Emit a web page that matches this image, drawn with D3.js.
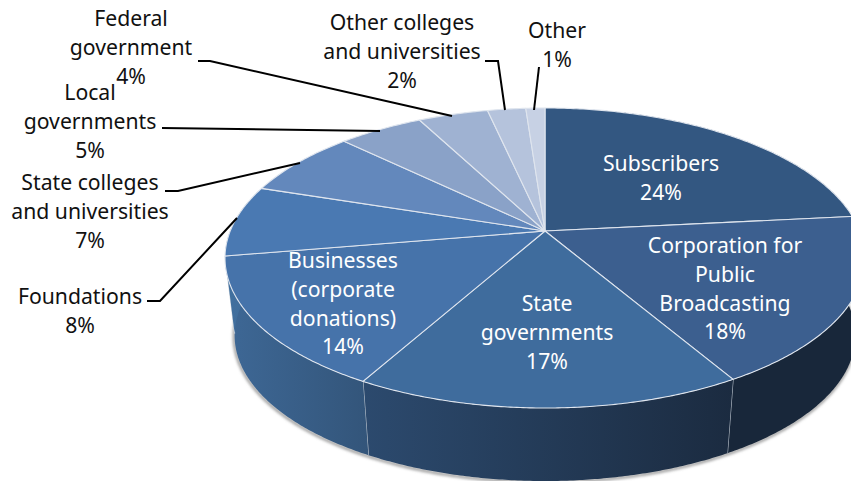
<!DOCTYPE html>
<html>
<head>
<meta charset="utf-8">
<script src="https://cdn.jsdelivr.net/npm/d3@7"></script>
<style>
  html, body { margin: 0; padding: 0; background: #fff; overflow: hidden; }
  svg { display: block; }
  text { font-family: "Noto Sans", "Open Sans", sans-serif; font-size: 21.2px; text-anchor: middle; }
</style>
</head>
<body>
<svg id="chart" width="851" height="481"></svg>
<script>
// Public broadcasting revenue by source, percent of total
const categories = [
  "Subscribers", "Corporation for Public Broadcasting", "State governments",
  "Businesses (corporate donations)", "Foundations", "State colleges and universities",
  "Local governments", "Federal government", "Other colleges and universities", "Other"
];
const shares = [24, 18, 17, 14, 8, 7, 5, 4, 2, 1];

const labelLines = [
  ["Subscribers"], ["Corporation for", "Public", "Broadcasting"], ["State", "governments"],
  ["Businesses", "(corporate", "donations)"], ["Foundations"], ["State colleges", "and universities"],
  ["Local", "governments"], ["Federal", "government"], ["Other colleges", "and universities"], ["Other"]
];

const topColors = ["#335781", "#3c5f8f", "#3f6c9d", "#4673aa", "#4a79b2",
                   "#6388bc", "#8aa2c8", "#9fb2d2", "#b5c3dc", "#c7d1e4"];
// Side-wall shading, left and right stop of each visible slice
const wallStops = [
  ["#18273a", "#18273a"], ["#18273a", "#18273a"], ["#2c4a6e", "#1b2b40"],
  ["#3e6896", "#33557a"], ["#41709f", "#3f6a98"]
];

// Label anchors: horizontal centre and first baseline
const labelAnchors = [
  [661, 171], [725, 253], [547, 311], [343, 268], [80, 304],
  [90, 190], [90, 100], [131, 26], [402, 30], [557, 38]
];
const lineHeight = 28.8;

// Leader polylines from outside labels to their slices
const leaders = [
  null, null, null, null,
  [[147, 301], [160, 301], [237, 218]],
  [[165, 191], [178, 191], [300, 163]],
  [[162, 128], [380, 131]],
  [[198, 61], [210, 61], [452, 116]],
  [[485, 61], [498, 61], [505, 110]],
  [[539, 67], [534, 110]]
];

// Tilted disc: slices meet at the apex, the rim is an ellipse centred lower down
const apex = { x: 545, y: 231 };
const rimShape = { cy: 258, rx: 320, ry: 150 };
const depth = { scale: 0.97, shift: 77.5 };

// Foreshortening of pie angles (degrees clockwise from 12 o'clock) along the rim
const viewAngle = d3.scaleLinear()
  .domain([-180, -150, -97, -45, -12, 0, 90, 150, 180])
  .range([-180, -148, -89, -40.5, -11.5, 0, 77, 142.5, 180]);

const deg = 180 / Math.PI;
function rimPoint(phi) {
  return [apex.x + rimShape.rx * Math.sin(phi),
          rimShape.cy - rimShape.ry * Math.cos(phi)];
}
function lower(p) {
  return [apex.x + (p[0] - apex.x) * depth.scale,
          rimShape.cy + depth.shift + (p[1] - rimShape.cy) * depth.scale];
}
function warp(angle) {
  // Work on the signed range -180..180, keeping 360 continuous with the end of the pie
  const a = angle * deg;
  const signed = a > 180 ? a - 360 : a;
  const w = viewAngle(signed) / deg;
  return a > 180 ? w + 2 * Math.PI : w;
}
function rim(start, end) {
  const from = warp(start), to = warp(end);
  const n = Math.max(2, Math.ceil((to - from) / 0.01));
  return d3.range(n + 1).map(i => rimPoint(from + (to - from) * i / n));
}

const svg = d3.select("#chart");
const defs = svg.append("defs");
const line = d3.line();
const arcs = d3.pie().sort(null).value(d => d)(shares);

defs.append("filter").attr("id", "soft").attr("x", "-5%").attr("y", "-5%")
  .attr("width", "110%").attr("height", "110%")
  .append("feGaussianBlur").attr("stdDeviation", 1.4);

// Soft shadow hugging the lower edge
const visible = arcs.slice(0, wallStops.length);
const wallEnd = visible[visible.length - 1].endAngle;
const outline = rim(0, wallEnd).map(lower);
svg.append("path")
  .attr("d", line(outline.map(p => [p[0] - 0.5, p[1] + 1])))
  .attr("fill", "none").attr("stroke", "#8c8c8c").attr("stroke-width", 2.5)
  .attr("filter", "url(#soft)");

// Side walls
const walls = svg.append("g");
visible.forEach((d, i) => {
  const top = rim(d.startAngle, d.endAngle);
  const poly = top.concat(top.map(lower).reverse());
  const xs = poly.map(p => p[0]);
  const id = "wall" + i;
  const g = defs.append("linearGradient").attr("id", id)
    .attr("gradientUnits", "userSpaceOnUse")
    .attr("x1", d3.min(xs)).attr("x2", d3.max(xs)).attr("y1", 0).attr("y2", 0);
  g.append("stop").attr("offset", 0).attr("stop-color", wallStops[i][0]);
  g.append("stop").attr("offset", 1).attr("stop-color", wallStops[i][1]);
  walls.append("path").attr("d", line(poly) + "Z").attr("fill", `url(#${id})`);
  const edge = rimPoint(warp(d.endAngle));
  walls.append("path")
    .attr("d", line([edge, lower(edge)]))
    .attr("stroke", i < 3 ? "#b9c2cc" : "#cfd6de").attr("stroke-width", 1.1).attr("fill", "none");
});

// Top face
svg.append("g").selectAll("path").data(arcs).join("path")
  .attr("d", d => line([[apex.x, apex.y], ...rim(d.startAngle, d.endAngle)]) + "Z")
  .attr("fill", (d, i) => topColors[i])
  .attr("stroke", "#dfe5ee").attr("stroke-width", 1.1).attr("stroke-linejoin", "round");

// Leader lines
svg.append("g").selectAll("path").data(leaders.filter(Boolean)).join("path")
  .attr("d", d => line(d)).attr("fill", "none").attr("stroke", "#000").attr("stroke-width", 2);

// Labels, inside ones white
const labels = svg.append("g").selectAll("text").data(arcs).join("text")
  .attr("fill", (d, i) => i < 4 ? "#fff" : "#111")
  .attr("transform", (d, i) => `translate(${labelAnchors[i][0]},${labelAnchors[i][1]})`);
labels.each(function (d, i) {
  const rows = labelLines[i].concat(d3.format("d")(shares[i]) + "%");
  d3.select(this).selectAll("tspan").data(rows).join("tspan")
    .attr("x", 0).attr("y", (r, j) => j * lineHeight).text(r => r);
});
</script>
</body>
</html>
